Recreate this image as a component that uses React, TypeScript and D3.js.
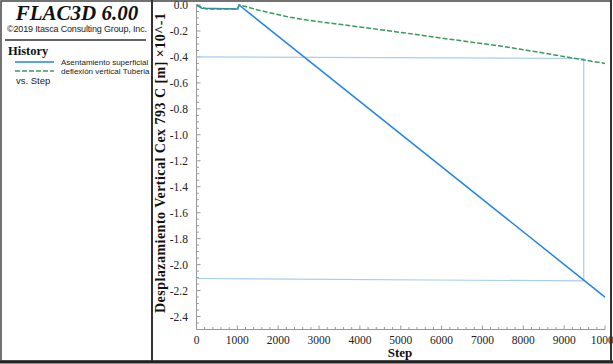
import React, { useEffect, useRef } from "react";
import * as d3 from "d3";

// Asentamiento superficial (blue)
const blueSteps = [0, 130, 1010, 1040, 10000];
const blueValues = [0, -0.025, -0.03, 0, -2.25];

// deflexión vertical Tuberia (green dashed)
const greenSteps = [0, 150, 250, 1000, 1050, 1200, 1500, 1875, 2290, 2700, 3500, 4330, 5000, 6000, 7440, 8500, 9400, 10000];
const greenValues = [0, -0.02, -0.03, -0.03, 0, -0.012, -0.038, -0.066, -0.095, -0.116, -0.149, -0.183, -0.211, -0.255, -0.316, -0.37, -0.419, -0.45];

// thin light-blue guide lines
const guideSteps = [0, 9480, 9480, 0];
const guideValues = [-0.399, -0.412, -2.126, -2.107];

const xTicks = [0, 1000, 2000, 3000, 4000, 5000, 6000, 7000, 8000, 9000, 10000];
const yTicks = [0, -0.2, -0.4, -0.6, -0.8, -1.0, -1.2, -1.4, -1.6, -1.8, -2.0, -2.2, -2.4];

const legendLabels = ["Asentamiento superficial", "deflexión vertical Tuberia"];

const App = () => {
    const svgRef = useRef<SVGSVGElement>(null);

    useEffect(() => {
        const svg = d3.select(svgRef.current);
        svg.selectAll("*").remove();

        const width = 613;
        const height = 364;
        const serif = "'Liberation Serif', 'Times New Roman', serif";
        const sans = "'Liberation Sans', Arial, sans-serif";

        svg.append("rect").attr("width", width).attr("height", height).attr("fill", "#fff");

        const x = d3.scaleLinear().domain([0, 10000]).range([196.5, 605]);
        const y = d3.scaleLinear().domain([-2.5, 0]).range([329.5, 5]);

        // axes lines
        const axisColor = "#999";
        svg.append("line")
            .attr("x1", x(0)).attr("x2", x(0))
            .attr("y1", y(0)).attr("y2", y(-2.5))
            .attr("stroke", axisColor).attr("stroke-width", 1);
        svg.append("line")
            .attr("x1", x(0)).attr("x2", x(10000))
            .attr("y1", y(-2.5)).attr("y2", y(-2.5))
            .attr("stroke", axisColor).attr("stroke-width", 1);

        // y ticks
        const yMinor = d3.range(0, 51).map((i) => -i * 0.05);
        svg.append("g").selectAll("line")
            .data(yMinor)
            .join("line")
            .attr("x1", x(0))
            .attr("x2", (d, i) => (i % 4 === 0 ? x(0) + 4 : x(0) + 2.5))
            .attr("y1", (d) => y(d)).attr("y2", (d) => y(d))
            .attr("stroke", axisColor);
        svg.append("g").selectAll("text")
            .data(yTicks)
            .join("text")
            .attr("x", 188)
            .attr("y", (d) => y(d) + 4)
            .attr("text-anchor", "end")
            .attr("font-family", serif)
            .attr("font-size", 11.5)
            .attr("fill", "#222")
            .text((d) => d3.format(".1f")(d).replace("−", "-"));

        // x ticks
        const xMinor = d3.range(0, 51).map((i) => i * 200);
        svg.append("g").selectAll("line")
            .data(xMinor)
            .join("line")
            .attr("x1", (d) => x(d)).attr("x2", (d) => x(d))
            .attr("y1", y(-2.5))
            .attr("y2", (d, i) => (i % 5 === 0 ? y(-2.5) - 4 : y(-2.5) - 2.5))
            .attr("stroke", axisColor);
        svg.append("g").selectAll("text")
            .data(xTicks)
            .join("text")
            .attr("x", (d) => x(d))
            .attr("y", 344)
            .attr("text-anchor", "middle")
            .attr("font-family", serif)
            .attr("font-size", 11.5)
            .attr("fill", "#222")
            .text((d) => String(d));

        // axis titles
        svg.append("text")
            .attr("x", 400).attr("y", 357)
            .attr("text-anchor", "middle")
            .attr("font-family", serif).attr("font-weight", "bold")
            .attr("font-size", 13).attr("fill", "#111")
            .text("Step");
        svg.append("text")
            .attr("transform", "translate(165,163) rotate(-90)")
            .attr("text-anchor", "middle")
            .attr("font-family", serif).attr("font-weight", "bold")
            .attr("font-size", 14).attr("fill", "#111")
            .attr("textLength", 300)
            .text("Desplazamiento Vertical Cex 793 C [m] ×10^-1");

        const path = (steps: number[], vals: number[]) =>
            d3.line<number>().x((d) => x(d)).y((d, i) => y(vals[i]))(steps);

        svg.append("path")
            .attr("d", path(guideSteps, guideValues))
            .attr("fill", "none").attr("stroke", "#a9cdf0").attr("stroke-width", 1.2);
        svg.append("path")
            .attr("d", path(blueSteps, blueValues))
            .attr("fill", "none").attr("stroke", "#2284ea").attr("stroke-width", 1.5);
        svg.append("path")
            .attr("d", path(greenSteps, greenValues))
            .attr("fill", "none").attr("stroke", "#3b9a5c").attr("stroke-width", 1.5)
            .attr("stroke-dasharray", "5,2");

        // left panel
        svg.append("text")
            .attr("x", 77).attr("y", 20)
            .attr("text-anchor", "middle")
            .attr("font-family", serif).attr("font-weight", "bold").attr("font-style", "italic")
            .attr("font-size", 21).attr("fill", "#111")
            .text("FLAC3D 6.00");
        svg.append("text")
            .attr("x", 77).attr("y", 32)
            .attr("text-anchor", "middle")
            .attr("font-family", sans)
            .attr("font-size", 9).attr("fill", "#222")
            .attr("textLength", 140)
            .text("©2019 Itasca Consulting Group, Inc.");
        svg.append("line")
            .attr("x1", 5).attr("x2", 146).attr("y1", 40).attr("y2", 40)
            .attr("stroke", "#333").attr("stroke-width", 1.5);
        svg.append("text")
            .attr("x", 8).attr("y", 55)
            .attr("font-family", serif).attr("font-weight", "bold")
            .attr("font-size", 12.5).attr("fill", "#111")
            .text("History");

        const legendColors = ["#2284ea", "#3b9a5c"];
        legendLabels.forEach((label, i) => {
            const ly = 62 + i * 9;
            svg.append("line")
                .attr("x1", 15).attr("x2", 54).attr("y1", ly).attr("y2", ly)
                .attr("stroke", legendColors[i]).attr("stroke-width", 1.5)
                .attr("stroke-dasharray", i === 1 ? "5,2" : null);
            svg.append("text")
                .attr("x", 61).attr("y", ly + 3)
                .attr("font-family", sans)
                .attr("font-size", 8).attr("fill", "#222")
                .text(label);
        });
        svg.append("text")
            .attr("x", 16).attr("y", 84)
            .attr("font-family", sans)
            .attr("font-size", 9.5).attr("fill", "#222")
            .text("vs. Step");

        // frames
        svg.append("rect")
            .attr("x", 1).attr("y", 1).attr("width", 610).attr("height", 360)
            .attr("fill", "none").attr("stroke", "#444").attr("stroke-width", 1.5);
        svg.append("line")
            .attr("x1", 152).attr("x2", 152).attr("y1", 0).attr("y2", 362)
            .attr("stroke", "#333").attr("stroke-width", 2);
        svg.append("line")
            .attr("x1", 0).attr("x2", 613).attr("y1", 362).attr("y2", 362)
            .attr("stroke", "#222").attr("stroke-width", 3);
        svg.append("line")
            .attr("x1", 611).attr("x2", 611).attr("y1", 0).attr("y2", 362)
            .attr("stroke", "#333").attr("stroke-width", 2);
    }, []);

    return (
        <svg
            ref={svgRef}
            width={613}
            height={364}
            style={{ position: "absolute", left: 0, top: 0 }}
        ></svg>
    );
};

export default App;
